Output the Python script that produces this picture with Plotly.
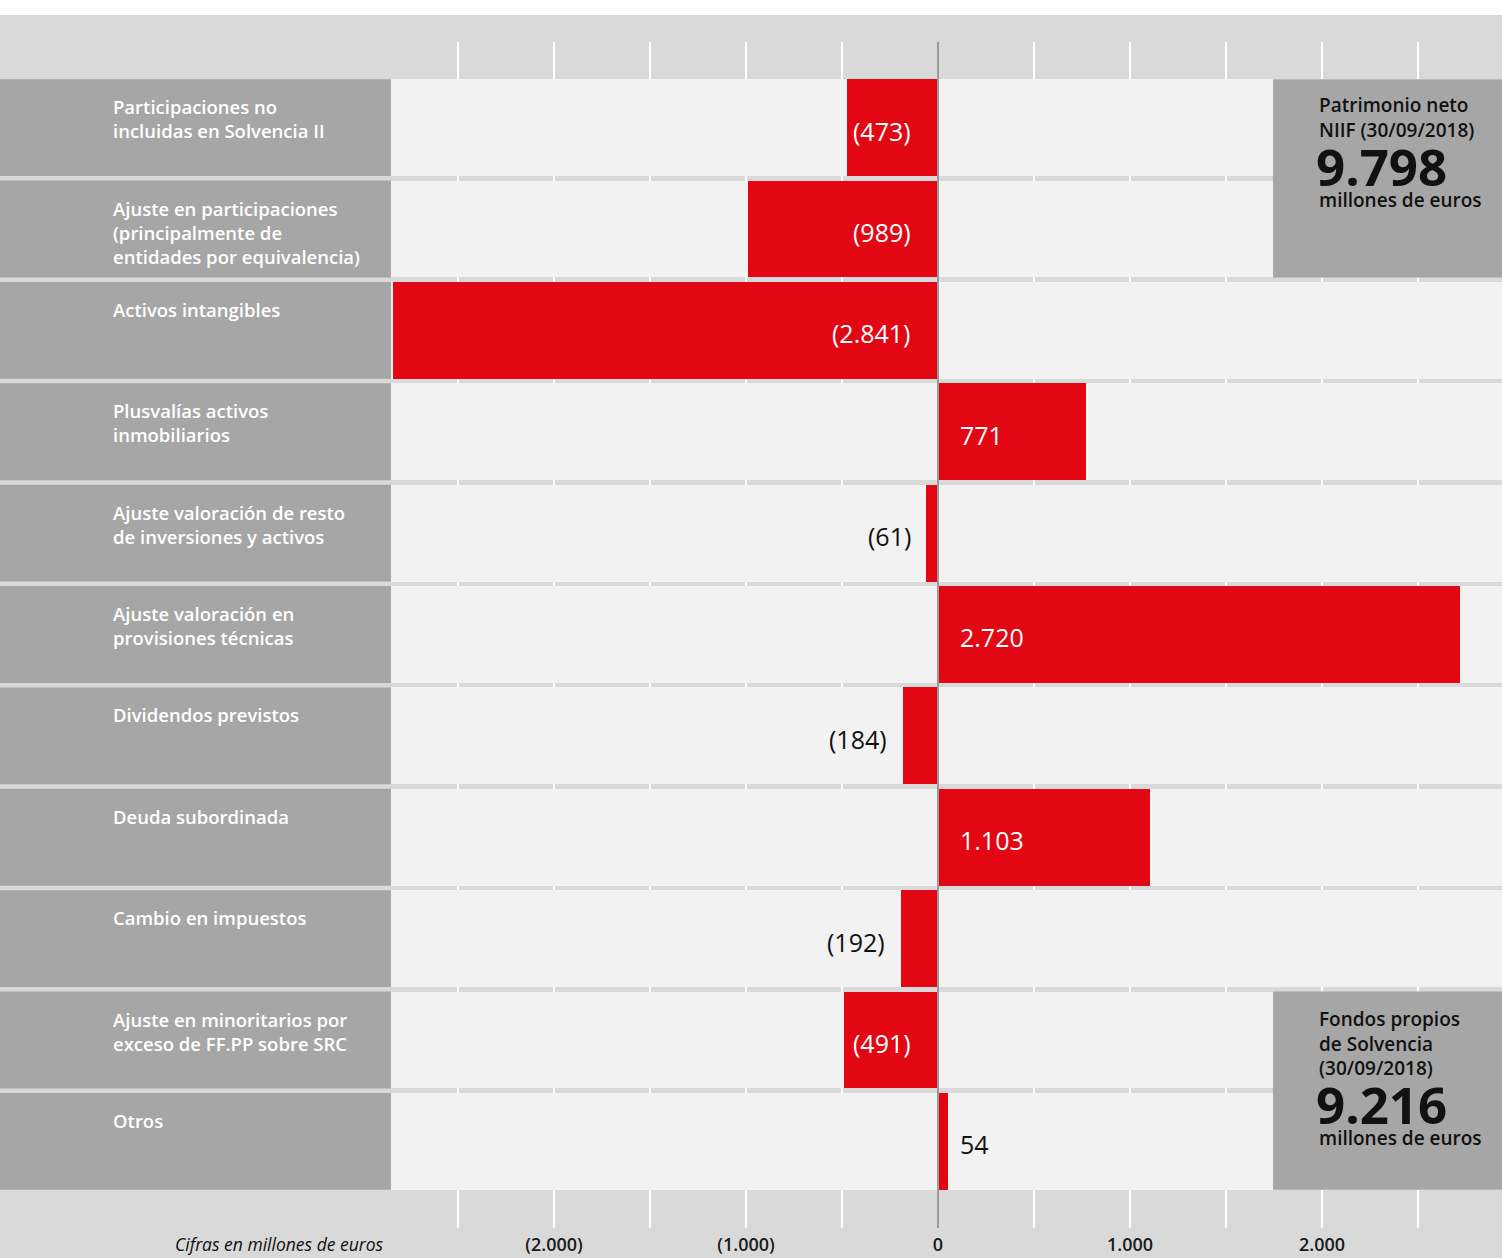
import plotly.graph_objects as go

# ---------------- data ----------------
categories = [
    "Participaciones no<br>incluidas en Solvencia II",
    "Ajuste en participaciones<br>(principalmente de<br>entidades por equivalencia)",
    "Activos intangibles",
    "Plusvalías activos<br>inmobiliarios",
    "Ajuste valoración de resto<br>de inversiones y activos",
    "Ajuste valoración en<br>provisiones técnicas",
    "Dividendos previstos",
    "Deuda subordinada",
    "Cambio en impuestos",
    "Ajuste en minoritarios por<br>exceso de FF.PP sobre SRC",
    "Otros",
]
values = [-473, -989, -2841, 771, -61, 2720, -184, 1103, -192, -491, 54]

tick_vals = [-2500, -2000, -1500, -1000, -500, 0, 500, 1000, 1500, 2000, 2500]
tick_text = ["", "(2.000)", "", "(1.000)", "", "0", "", "1.000", "", "2.000", ""]

box_top_title = "Patrimonio neto<br>NIIF (30/09/2018)"
box_top_value = "9.798"
box_bottom_title = "Fondos propios<br>de Solvencia<br>(30/09/2018)"
box_bottom_value = "9.216"
box_unit = "millones de euros"
footnote = "Cifras en millones de euros"

# ---------------- style ----------------
W, H = 1502, 1258
RED = "#e30613"
BG = "#d9d9d9"
ROW = "#f2f2f2"
LABEL_BG = "#a6a6a6"
FONT = "Open Sans"
HALF = 0.478
X_RANGE = [-2849, 2937.5]


def px_x(p):
    return p / W


def px_y(p):
    return 1 - p / H


def fmt(v):
    s = f"{abs(v):,}".replace(",", ".")
    return f"({s})" if v < 0 else s


fig = go.Figure()
# light row backgrounds spanning the whole plot width
fig.add_trace(go.Bar(
    y=categories, x=[X_RANGE[1] - X_RANGE[0]] * len(categories), base=X_RANGE[0],
    orientation="h", width=2 * HALF, marker=dict(color=ROW, line=dict(width=0)),
    hoverinfo="skip", textposition="none",
))
fig.add_trace(go.Bar(
    y=categories, x=values, orientation="h", base=0,
    width=2 * HALF, marker=dict(color=RED, line=dict(width=0)),
    hoverinfo="skip", textposition="none",
))

shapes = []
annotations = []

# white strip at very top
shapes.append(dict(type="rect", xref="paper", yref="paper", x0=0, x1=1,
                   y0=px_y(15), y1=1.01, fillcolor="white", line=dict(width=0), layer="above"))

for i, (cat, v) in enumerate(zip(categories, values)):
    shapes.append(dict(type="rect", xref="paper", yref="y", x0=0, x1=px_x(391),
                       y0=i - HALF, y1=i + HALF, fillcolor=LABEL_BG, line=dict(width=0), layer="above"))
    annotations.append(dict(xref="paper", yref="y", x=px_x(111), y=i - HALF,
                            xanchor="left", yanchor="top", yshift=-13, align="left",
                            text=cat, showarrow=False,
                            font=dict(family=FONT, size=18.5, color="white", weight=600)))
    inside = abs(v) >= 300
    color = "white" if inside else "#111111"
    if v < 0:
        if -300 < v < -100:
            ax, xs = v, -14
        else:
            ax, xs = 0, -25
        annotations.append(dict(xref="x", yref="y", x=ax, y=i, xanchor="right", yanchor="middle",
                                xshift=xs, yshift=-3, text=fmt(v), showarrow=False,
                                font=dict(family=FONT, size=25, color=color)))
    else:
        annotations.append(dict(xref="x", yref="y", x=0, y=i, xanchor="left", yanchor="middle",
                                xshift=20, yshift=-3, text=fmt(v), showarrow=False,
                                font=dict(family=FONT, size=25, color=color)))

# right summary boxes
shapes.append(dict(type="rect", xref="paper", yref="y", x0=px_x(1273), x1=1,
                   y0=0 - HALF, y1=1 + HALF, fillcolor=LABEL_BG, line=dict(width=0), layer="above"))
shapes.append(dict(type="rect", xref="paper", yref="y", x0=px_x(1273), x1=1,
                   y0=9 - HALF, y1=10 + HALF, fillcolor=LABEL_BG, line=dict(width=0), layer="above"))

# zero line
shapes.append(dict(type="line", xref="x", yref="paper", x0=0, x1=0, y0=px_y(1228), y1=px_y(42),
                   line=dict(color="#9a9a9a", width=2), layer="above"))

bx = px_x(1317)
for title, val, tc, vc, uc in [
    (box_top_title, box_top_value, 117, 166, 200),
    (box_bottom_title, box_bottom_value, 1043, 1104, 1138),
]:
    annotations.append(dict(xref="paper", yref="paper", x=bx, y=px_y(tc), xanchor="left",
                            yanchor="middle", align="left", text=title, showarrow=False,
                            font=dict(family=FONT, size=19, color="#111111", weight=600)))
    annotations.append(dict(xref="paper", yref="paper", x=bx - 0.002, y=px_y(vc), xanchor="left",
                            yanchor="middle", align="left", text=val, showarrow=False,
                            font=dict(family=FONT, size=51, color="#111111", weight=700)))
    annotations.append(dict(xref="paper", yref="paper", x=bx, y=px_y(uc), xanchor="left",
                            yanchor="middle", align="left", text=box_unit, showarrow=False,
                            font=dict(family=FONT, size=19, color="#111111", weight=600)))

annotations.append(dict(xref="paper", yref="paper", x=px_x(386), y=px_y(1244), xanchor="right",
                        yanchor="middle", text=f"<i>{footnote}</i>", showarrow=False,
                        font=dict(family=FONT, size=17.5, color="#111111")))

fig.update_layout(
    width=W, height=H,
    margin=dict(l=0, r=0, t=0, b=0),
    paper_bgcolor=BG, plot_bgcolor=BG,
    showlegend=False,
    barmode="overlay",
    bargap=0,
    shapes=shapes, annotations=annotations,
    xaxis=dict(domain=[px_x(391), 1], range=X_RANGE, tickvals=tick_vals, ticktext=tick_text,
               showgrid=True, gridcolor="white", gridwidth=1.5, zeroline=False, showline=False,
               ticks="", ticklabelstandoff=4,
               tickfont=dict(family=FONT, size=18, color="#1a1a1a", weight=600), fixedrange=True),
    yaxis=dict(domain=[px_y(1228), px_y(42)], type="category", categoryorder="array",
               categoryarray=categories, range=[10 + 0.855, -0.845], showticklabels=False,
               showgrid=False, zeroline=False, showline=False, fixedrange=True),
)

fig.write_html(
    "out.html",
    config={"displayModeBar": False},
    post_script="document.body.style.margin='0';document.body.style.overflow='hidden';",
)
